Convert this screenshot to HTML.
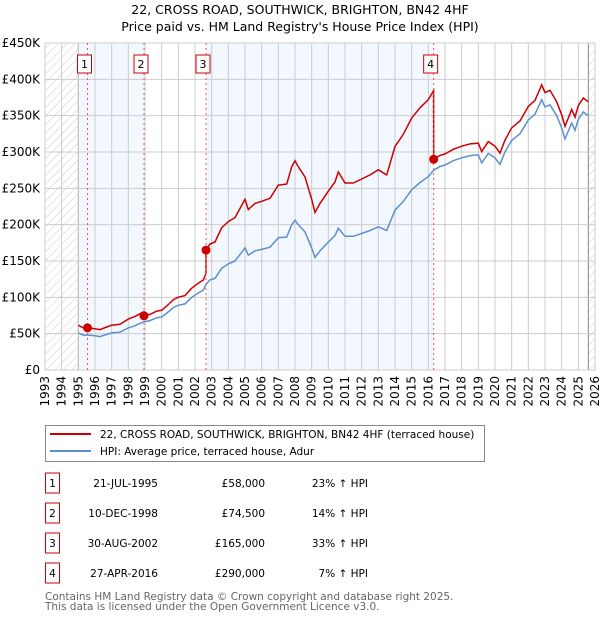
<!DOCTYPE html>
<html><head><meta charset="utf-8">
<style>
body{margin:0;background:#fff;width:600px;height:620px;overflow:hidden;font-family:"DejaVu Sans","Liberation Sans",sans-serif;}
svg text{font-family:"DejaVu Sans","Liberation Sans",sans-serif;}
</style></head>
<body>
<svg id="chart" width="600" height="620">
<defs>
<pattern id="hatch" patternUnits="userSpaceOnUse" width="6" height="6" patternTransform="rotate(45)">
<line x1="0" y1="0" x2="0" y2="6" stroke="#ccc" stroke-width="1"/></pattern>
<clipPath id="plotclip"><rect x="45" y="43" width="550" height="327"/></clipPath>
</defs>
<text x="300" y="14" text-anchor="middle" font-size="12.5">22, CROSS ROAD, SOUTHWICK, BRIGHTON, BN42 4HF</text>
<text x="300" y="31" text-anchor="middle" font-size="12.5">Price paid vs. HM Land Registry's House Price Index (HPI)</text>
<g id="bg"></g><g id="grid"></g><g id="series" clip-path="url(#plotclip)"></g><g id="marks"></g><g id="axes"></g>
<g>
<rect x="45.5" y="425.5" width="439" height="36" fill="#fff" stroke="#888"/>
<line x1="50" y1="434" x2="91" y2="434" stroke="#cc0000" stroke-width="2"/>
<text x="100" y="438" font-size="10.5">22, CROSS ROAD, SOUTHWICK, BRIGHTON, BN42 4HF (terraced house)</text>
<line x1="50" y1="451" x2="91" y2="451" stroke="#5b8fd0" stroke-width="2"/>
<text x="100" y="455" font-size="10.5">HPI: Average price, terraced house, Adur</text>
</g>
<g id="table"></g>
<text x="45" y="600" font-size="10.5" fill="#666">Contains HM Land Registry data © Crown copyright and database right 2025.</text>
<text x="45" y="610" font-size="10.5" fill="#666">This data is licensed under the Open Government Licence v3.0.</text>
</svg>
<script>
const yearTicks=[1993,1994,1995,1996,1997,1998,1999,2000,2001,2002,2003,2004,2005,2006,2007,2008,2009,2010,2011,2012,2013,2014,2015,2016,2017,2018,2019,2020,2021,2022,2023,2024,2025,2026];
const valueTicks=[0,50,100,150,200,250,300,350,400,450];
const valueLabels=["£0","£50K","£100K","£150K","£200K","£250K","£300K","£350K","£400K","£450K"];
const hpiYears=[1995.0,1995.3,1995.6,1996.0,1996.3,1996.7,1997.0,1997.5,1998.0,1998.4,1998.9,1999.3,1999.7,2000.0,2000.4,2000.7,2001.0,2001.4,2001.8,2002.2,2002.5,2002.66,2002.9,2003.2,2003.6,2004.0,2004.4,2004.8,2005.0,2005.2,2005.6,2006.0,2006.5,2007.0,2007.5,2007.8,2008.0,2008.2,2008.6,2009.0,2009.2,2009.5,2010.0,2010.4,2010.6,2011.0,2011.5,2012.0,2012.5,2013.0,2013.5,2014.0,2014.5,2015.0,2015.5,2016.0,2016.32,2016.7,2017.0,2017.5,2018.0,2018.5,2019.0,2019.2,2019.6,2020.0,2020.3,2020.6,2021.0,2021.5,2022.0,2022.4,2022.8,2023.0,2023.3,2023.7,2024.0,2024.2,2024.6,2024.8,2025.0,2025.3,2025.6];
const hpiValues=[51,48,48,47,46,49,51,52,58,61,66,68,72,73,80,86,89,91,100,106,110,118,124,126,140,146,150,162,168,158,164,166,169,182,183,200,206,200,190,168,155,164,176,185,195,184,184,188,192,197,192,220,232,248,258,266,275,280,282,288,292,295,296,285,298,292,283,300,316,325,344,352,372,362,365,350,333,318,340,330,345,355,350];
const saleYears=[1995.55,1998.94,2002.66,2016.32];
const salePrices=[58,74.5,165,290];
const saleDates=["21-JUL-1995","10-DEC-1998","30-AUG-2002","27-APR-2016"];
const salePriceLabels=["£58,000","£74,500","£165,000","£290,000"];
const salePct=["23% ↑ HPI","14% ↑ HPI","33% ↑ HPI","7% ↑ HPI"];

const NS="http://www.w3.org/2000/svg";
const X=y=>45+(y-1993)*550/33;
const Y=v=>370-v*327/450;
function mk(tag,attrs,parent){const e=document.createElementNS(NS,tag);for(const k in attrs)e.setAttribute(k,attrs[k]);document.getElementById(parent).appendChild(e);return e;}
function hpiAt(t){for(let i=0;i<hpiYears.length-1;i++){if(t>=hpiYears[i]&&t<=hpiYears[i+1]){const f=(t-hpiYears[i])/(hpiYears[i+1]-hpiYears[i]);return hpiValues[i]+f*(hpiValues[i+1]-hpiValues[i]);}}return hpiValues[hpiValues.length-1];}

let e;
e=mk('rect',{x:45,y:43,width:550,height:327,fill:'#fff'},'bg');

const bands=[[1995,saleYears[1]],[saleYears[2],saleYears[3]]];
bands.forEach(b=>{e=mk('rect',{x:X(b[0]),y:43,width:X(b[1])-X(b[0]),height:327,fill:'#eef3fd',opacity:0.7},'bg');
});
e=mk('rect',{x:45,y:43,width:X(1995)-45,height:327,fill:'url(#hatch)'},'bg');

e=mk('rect',{x:X(2025.6),y:43,width:595-X(2025.6),height:327,fill:'url(#hatch)'},'bg');

mk('line',{x1:X(1995),y1:43,x2:X(1995),y2:370,stroke:'#888'},'bg');
mk('line',{x1:X(2025.6),y1:43,x2:X(2025.6),y2:370,stroke:'#888'},'bg');

yearTicks.forEach(t=>{mk('line',{x1:X(t),y1:43,x2:X(t),y2:370,stroke:'#ccc'},'grid');
e=mk('text',{x:0,y:0,'font-size':12,'text-anchor':'end',transform:`translate(${X(t)+4},376) rotate(-90)`},'axes');
e.textContent=t;});
valueTicks.forEach((v,i)=>{mk('line',{x1:45,y1:Y(v),x2:595,y2:Y(v),stroke:'#ccc'},'grid');
e=mk('text',{x:40,y:Y(v)+4,'font-size':12,'text-anchor':'end'},'axes');
e.textContent=valueLabels[i];});
mk('rect',{x:45,y:43,width:550,height:327,fill:'none',stroke:'#ccc'},'grid');

let d=hpiYears.map((t,i)=>(i?'L':'M')+X(t).toFixed(1)+' '+Y(hpiValues[i]).toFixed(1)).join(' ');
e=mk('path',{d:d,fill:'none',stroke:'#5b8fd0','stroke-width':1.5},'series');


let pts=[];
function factorAt(t){let k=0;for(let i=0;i<saleYears.length;i++)if(t>=saleYears[i])k=i;return salePrices[k]/hpiAt(saleYears[k]);}
let times=hpiYears.slice();saleYears.forEach(s=>{times.push(s-0.001);times.push(s);});times.sort((a,b)=>a-b);
times.forEach((t,i)=>pts.push((i?'L':'M')+X(t).toFixed(1)+' '+Y(hpiAt(t)*factorAt(t)).toFixed(1)));
e=mk('path',{d:pts.join(' '),fill:'none',stroke:'#cc0000','stroke-width':1.5},'series');


saleYears.forEach((s,i)=>{
e=mk('line',{x1:X(s),y1:43,x2:X(s),y2:370,stroke:'#ee5555','stroke-dasharray':'2,3','stroke-width':1},'marks');

e=mk('circle',{cx:X(s),cy:Y(salePrices[i]),r:4.5,fill:'#cc0000'},'marks');

e=mk('rect',{x:X(s)-10,y:55,width:14,height:18,fill:'#fff',stroke:'#cc0000'},'marks');

e=mk('text',{x:X(s)-3,y:68,'font-size':11,'text-anchor':'middle'},'marks');e.textContent=i+1;

const ty=[483,513,543,573][i];
e=mk('rect',{x:45.5,y:ty-10,width:14,height:20,fill:'#fff',stroke:'#cc0000'},'table');

e=mk('text',{x:52.5,y:ty+4,'font-size':10.5,'text-anchor':'middle'},'table');e.textContent=i+1;

e=mk('text',{x:158,y:ty+4,'font-size':10.5,'text-anchor':'end'},'table');e.textContent=saleDates[i];

e=mk('text',{x:265,y:ty+4,'font-size':10.5,'text-anchor':'end'},'table');e.textContent=salePriceLabels[i];

e=mk('text',{x:368,y:ty+4,'font-size':10.5,'text-anchor':'end'},'table');e.textContent=salePct[i];

});
</script>
</body></html>
